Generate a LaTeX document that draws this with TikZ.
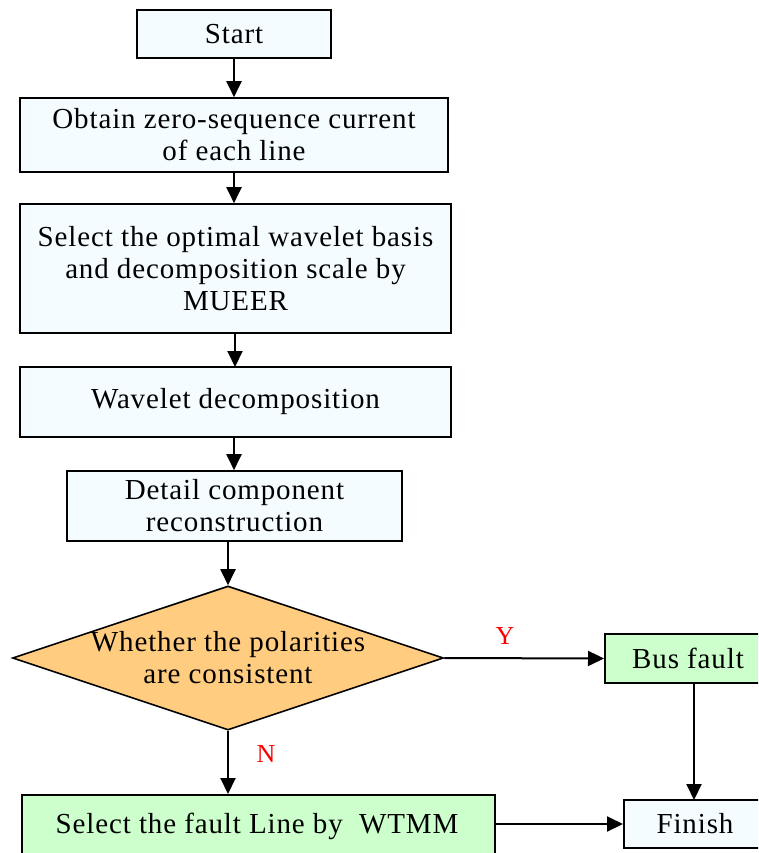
\documentclass[tikz,border=0pt]{standalone}
\usepackage{fontspec}
\setmainfont{Liberation Serif}[LetterSpace=3]
\usetikzlibrary{arrows.meta,shapes.geometric}
\definecolor{boxblue}{RGB}{244,252,255}
\definecolor{boxgreen}{RGB}{204,255,204}
\definecolor{diaorange}{RGB}{255,204,128}
\tikzset{
  x=1pt,y=-1pt,
  txt/.style={align=center,inner sep=0pt,font=\fontsize{29}{32}\selectfont},
  flowbox/.style={txt,draw=black,line width=1.6pt,fill=boxblue},
  greenbox/.style={flowbox,fill=boxgreen},
  conn/.style={line width=2pt,-{Triangle[length=16pt,width=15pt]}},
  lbl/.style={text=red,font=\fontsize{26}{28}\selectfont,inner sep=0pt}
}
\begin{document}
\begin{tikzpicture}
\useasboundingbox (0,0) rectangle (758,853);
\clip (0,0) rectangle (758,853);
\node[flowbox,minimum width=194pt,minimum height=48pt] (start) at (234,34) {Start};
\node[flowbox,minimum width=428pt,minimum height=74pt] (obtain) at (234,135) {Obtain zero-sequence current\\of each line};
\node[flowbox,minimum width=431pt,minimum height=129pt] (select) at (235.5,268.5) {Select the optimal wavelet basis\\and decomposition scale by\\MUEER};
\node[flowbox,minimum width=431pt,minimum height=70pt] (wave) at (235.5,402) {Wavelet decomposition};
\node[flowbox,minimum width=335pt,minimum height=70pt] (detail) at (234.5,506) {Detail component\\reconstruction};
\node[draw=black,line width=1.6pt,fill=diaorange,diamond,aspect=3,minimum width=431pt,minimum height=144pt,inner sep=0pt] (dia) at (228,658) {};
\node[txt] (diatext) at (228,658) {Whether the polarities\\are consistent};
\node[greenbox,minimum width=180pt,minimum height=49pt,anchor=west] (bus) at (604,658.5) {};
\node[txt] (bustext) at (688,658.5) {Bus fault};
\node[greenbox,minimum width=473pt,minimum height=70pt,anchor=north west] (fline) at (21,794) {};
\node[txt] (flinetext) at (257,826) {Select the fault Line by\ \ WTMM};
\node[flowbox,minimum width=160pt,minimum height=48pt,anchor=west] (finish) at (623,824) {};
\node[txt] (finishtext) at (695,824) {Finish};
\coordinate (busbot) at (694,683);
\coordinate (fintop) at (694,800);
\draw[conn] (start) -- (obtain);
\draw[conn] (obtain.south) -- (obtain.south |- select.north);
\draw[conn] (select.south -| obtain.south) ++(1,0) -- (235,367);
\draw[conn] (wave.south -| obtain.south) -- (obtain.south |- detail.north);
\draw[conn] (detail.south -| dia.north) -- (dia.north);
\draw[conn] (dia.south) -- (dia.south |- fline.north);
\draw[conn] (dia.east) -- (bus.west);
\draw[conn] (busbot) -- (fintop);
\draw[conn] (fline.east |- finish.west) -- (finish.west);
\node[lbl] (ylbl) at (505,636) {Y};
\node[lbl] (nlbl) at (266,754) {N};
\end{tikzpicture}
\end{document}
